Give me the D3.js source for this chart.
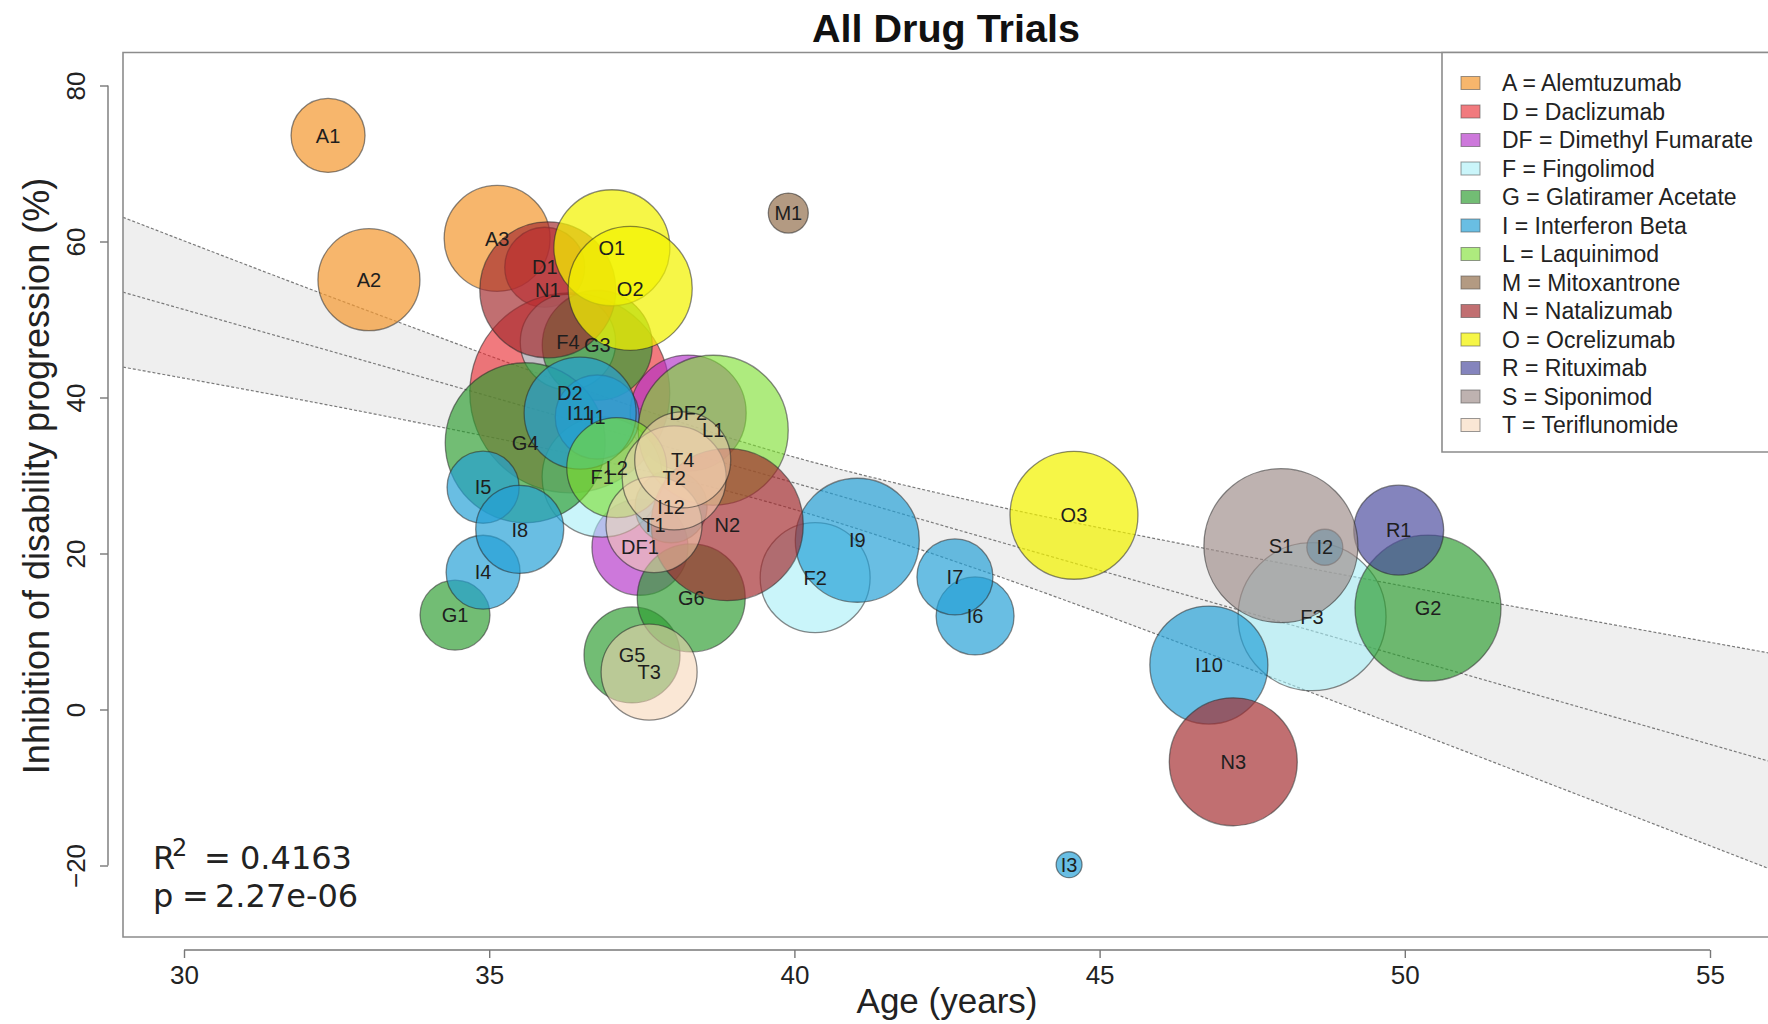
<!DOCTYPE html>
<html>
<head>
<meta charset="utf-8">
<script src="https://cdn.jsdelivr.net/npm/d3@7"></script>
<style>
  html, body { margin: 0; padding: 0; background: #fff; }
  svg { display: block; }
</style>
</head>
<body>
<svg id="chart" width="1768" height="1024"></svg>
<script>
// ---- Trials: id, mean age, inhibition of disability progression, patients ----
const trialIds = ["A1","A2","A3","D1","D2","DF1","DF2","F1","F2","F3","F4",
  "G1","G2","G3","G4","G5","G6","I1","I2","I3","I4","I5","I6","I7","I8","I9",
  "I10","I11","I12","L1","L2","M1","N1","N2","N3","O1","O2","O3","R1","S1",
  "T1","T2","T3","T4"];
const trialAge = [32.36,33.03,35.13,35.91,36.32,37.47,38.26,36.85,40.34,48.48,36.29,
  34.44,50.38,36.77,35.59,37.34,38.31,36.77,48.69,44.50,34.90,34.90,42.96,42.63,35.50,41.03,
  46.79,36.49,37.98,38.67,37.09,39.90,35.96,38.90,47.19,37.01,37.31,44.58,49.90,47.97,
  37.70,38.03,37.62,38.17];
const trialInhibition = [73.6,55.1,60.4,56.7,40.6,20.8,38.0,29.8,16.9,11.9,47.1,
  12.1,13.0,46.7,34.2,7.0,14.3,37.5,20.8,-19.9,17.6,28.5,12.0,17.0,23.1,21.7,
  5.7,38.0,26.0,35.8,31.0,63.65,53.8,23.7,-6.7,59.2,54.0,24.9,23.0,21.0,
  23.7,29.7,4.8,32.0];
const trialPatients = [253,481,519,296,1849,426,622,666,559,1013,420,
  226,985,559,1183,426,539,326,60,31,253,240,281,267,358,711,
  644,580,240,1040,462,74,855,1068,757,622,711,757,374,1096,
  426,500,426,426];

// ---- Drug classes ----
const drugCodes = ["A","D","DF","F","G","I","L","M","N","O","R","S","T"];
const drugNames = ["Alemtuzumab","Daclizumab","Dimethyl Fumarate","Fingolimod",
  "Glatiramer Acetate","Interferon Beta","Laquinimod","Mitoxantrone","Natalizumab",
  "Ocrelizumab","Rituximab","Siponimod","Teriflunomide"];

// ---- Linear fit with 95% confidence band ----
const bandAge   = [29, 33.5, 37, 39.8, 43, 46.5, 50, 56];
const bandFit   = [53.5, 43.5, 35.7, 29.5, 22.3, 14.5, 6.7, -6.7];
const bandUpper = [63.1, 49.7, 39.8, 32.8, 26.6, 21.0, 15.8, 7.2];
const bandLower = [43.9, 37.3, 31.6, 26.1, 18.0, 8.0, -2.4, -20.5];

const xTicks = [30, 35, 40, 45, 50, 55];
const yTicks = [-20, 0, 20, 40, 60, 80];
const fitStats = { r2: "0.4163", p: "2.27e-06" };

// ---- Drawing ----
const svg = d3.select("#chart");
const font = "'Liberation Sans', Arial, Helvetica, sans-serif";

const x = d3.scaleLinear().domain([30, 55]).range([184, 1710]);
const y = d3.scaleLinear().domain([-20, 80]).range([865.5, 85.5]);
const r = d3.scaleSqrt().domain([0, 2000]).range([0, 104]);

const color = d3.scaleOrdinal().domain(drugCodes).range([
  "#F49A33", "#E8282E", "#B22FC8", "#A6EEF6", "#2F9D32", "#229FD6", "#7DDF2E",
  "#9A7858", "#A42B2E", "#F2F200", "#4A4A9E", "#9F8D8B", "#F6D3B2"
]);
const alpha = { A: 0.72, D: 0.62, DF: 0.65, F: 0.6, G: 0.68, I: 0.68, L: 0.62,
  M: 0.75, N: 0.68, O: 0.72, R: 0.68, S: 0.68, T: 0.55 };

const plot = { left: 123, top: 52.5, bottom: 937, right: 1790 };

svg.append("defs").append("clipPath").attr("id", "plotClip")
  .append("rect")
  .attr("x", plot.left).attr("y", plot.top)
  .attr("width", plot.right - plot.left).attr("height", plot.bottom - plot.top);

const inner = svg.append("g").attr("clip-path", "url(#plotClip)");

// confidence band
const band = bandAge.map((a, i) => ({ a, fit: bandFit[i], lo: bandLower[i], hi: bandUpper[i] }));
inner.append("path")
  .datum(band)
  .attr("d", d3.area().x(d => x(d.a)).y0(d => y(d.lo)).y1(d => y(d.hi)).curve(d3.curveMonotoneX))
  .attr("fill", "#e9e9e9").attr("fill-opacity", 0.75);

["hi", "fit", "lo"].forEach(k => {
  inner.append("path")
    .datum(band)
    .attr("d", d3.line().x(d => x(d.a)).y(d => y(d[k])).curve(d3.curveMonotoneX))
    .attr("fill", "none")
    .attr("stroke", "#7a7a7a")
    .attr("stroke-width", 1.2)
    .attr("stroke-dasharray", "3,2");
});

// trials, drawn in table order (later classes overlay earlier ones)
const trials = trialIds.map((id, i) => ({
  id,
  drug: id.replace(/\d+$/, ""),
  age: trialAge[i],
  inhibition: trialInhibition[i],
  n: trialPatients[i]
}));

inner.append("g").selectAll("circle")
  .data(trials)
  .join("circle")
  .attr("cx", d => x(d.age))
  .attr("cy", d => y(d.inhibition))
  .attr("r", d => r(d.n))
  .attr("fill", d => color(d.drug))
  .attr("fill-opacity", d => alpha[d.drug])
  .attr("stroke", "#2a2a2a")
  .attr("stroke-opacity", 0.55)
  .attr("stroke-width", 1.3);

inner.append("g").selectAll("text")
  .data(trials)
  .join("text")
  .attr("x", d => x(d.age))
  .attr("y", d => y(d.inhibition))
  .attr("dy", "0.36em")
  .attr("text-anchor", "middle")
  .attr("font-family", font)
  .attr("font-size", 20)
  .attr("fill", "#1e1e1e")
  .text(d => d.id);

// plot frame
svg.append("path")
  .attr("d", `M${plot.right},${plot.top}H${plot.left}V${plot.bottom}H${plot.right}`)
  .attr("fill", "none").attr("stroke", "#8c8c8c").attr("stroke-width", 1.6);

// x axis (detached line spanning first to last tick)
const xAxis = svg.append("g").attr("transform", "translate(0,950)")
  .call(d3.axisBottom(x).tickValues(xTicks).tickSize(8).tickPadding(8).tickFormat(d3.format("d")));
xAxis.select(".domain").attr("d", `M${x(30)},0H${x(55)}`).attr("stroke", "#777").attr("stroke-width", 1.4);
xAxis.selectAll(".tick line").attr("stroke", "#777").attr("stroke-width", 1.4);
xAxis.selectAll(".tick text").attr("font-family", font).attr("font-size", 26).attr("fill", "#222");

// y axis
const yAxis = svg.append("g").attr("transform", "translate(108,0)")
  .call(d3.axisLeft(y).tickValues(yTicks).tickSize(8).tickFormat(d3.format("d")));
yAxis.select(".domain").attr("d", `M0,${y(-20)}V${y(80)}`).attr("stroke", "#777").attr("stroke-width", 1.4);
yAxis.selectAll(".tick line").attr("stroke", "#777").attr("stroke-width", 1.4);
yAxis.selectAll(".tick text")
  .attr("font-family", font).attr("font-size", 26).attr("fill", "#222")
  .attr("text-anchor", "middle")
  .attr("x", null).attr("dy", null)
  .attr("transform", "translate(-23,0) rotate(-90)");

// titles
svg.append("text")
  .attr("x", 946).attr("y", 42)
  .attr("text-anchor", "middle")
  .attr("font-family", font).attr("font-weight", "bold").attr("font-size", 39.5)
  .attr("fill", "#111")
  .text("All Drug Trials");

svg.append("text")
  .attr("x", 947).attr("y", 1013)
  .attr("text-anchor", "middle")
  .attr("font-family", font).attr("font-size", 35).attr("fill", "#222")
  .text("Age (years)");

svg.append("text")
  .attr("transform", "translate(48.5,476) rotate(-90)")
  .attr("text-anchor", "middle")
  .attr("font-family", font).attr("font-size", 36).attr("fill", "#222")
  .text("Inhibition of disability progression (%)");

// fit statistics
const statFont = "'DejaVu Sans', Verdana, sans-serif";
const stats = svg.append("g").attr("font-family", statFont).attr("fill", "#222").attr("font-size", 32);
stats.append("text").attr("x", 153).attr("y", 869).text("R");
stats.append("text").attr("x", 172).attr("y", 856).attr("font-size", 24).text("2");
stats.append("text").attr("x", 204).attr("y", 869).text("=");
stats.append("text").attr("x", 240).attr("y", 869).text(fitStats.r2);
stats.append("text").attr("x", 153).attr("y", 907).text("p");
stats.append("text").attr("x", 182).attr("y", 907).text("=");
stats.append("text").attr("x", 215).attr("y", 907).text(fitStats.p);

// legend
const legend = svg.append("g");
legend.append("path")
  .attr("d", "M1790,52.5H1442V452H1790")
  .attr("fill", "#fff").attr("stroke", "#8c8c8c").attr("stroke-width", 1.6);
const items = legend.selectAll("g.item")
  .data(drugCodes)
  .join("g").attr("class", "item")
  .attr("transform", (d, i) => `translate(0,${83 + i * 28.5})`);
items.append("rect")
  .attr("x", 1461).attr("y", -6.5).attr("width", 19).attr("height", 13)
  .attr("fill", d => color(d)).attr("fill-opacity", d => alpha[d])
  .attr("stroke", "#555").attr("stroke-opacity", 0.6).attr("stroke-width", 1);
items.append("text")
  .attr("x", 1502).attr("dy", "0.36em")
  .attr("font-family", font).attr("font-size", 23).attr("fill", "#222")
  .text((d, i) => `${d} = ${drugNames[i]}`);
</script>
</body>
</html>
